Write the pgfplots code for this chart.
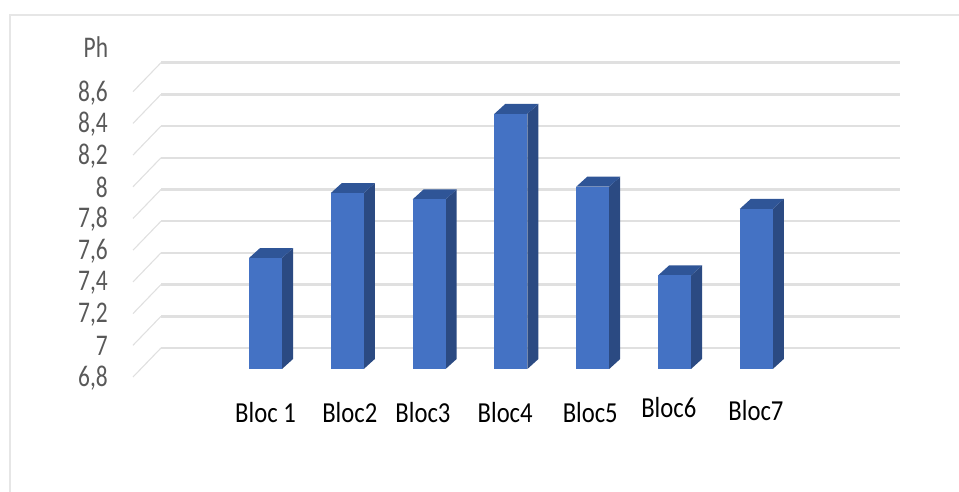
\documentclass[border=0pt]{standalone}
\usepackage{pgfplots}
\pgfplotsset{compat=1.18}
\usepackage{fontspec}
\setmainfont{Carlito}
\newfontfamily\tickfont[FakeStretch=0.78]{Carlito}
\newfontfamily\blocfont[FakeStretch=0.85]{Carlito}
\definecolor{wallgrid}{HTML}{E0E0E0}
\definecolor{framegrey}{HTML}{E6E6E6}
\definecolor{barfront}{HTML}{4472C4}
\definecolor{barside}{HTML}{2B4A82}
\definecolor{bartop}{HTML}{2F5597}
\definecolor{ticktext}{HTML}{595959}
\begin{document}
\begin{tikzpicture}[x=1pt,y=1pt]
\useasboundingbox (0,0) rectangle (959,492);
% outer frame of the chart area
\draw[framegrey,line width=2.5pt] (10,0) -- (10,477) -- (959,477);
% back wall: value axis, gridlines and the receding floor lines
\begin{axis}[
  at={(0,0)},anchor=south west,scale only axis,width=959pt,height=492pt,
  xmin=0,xmax=959,ymin=6.0744,ymax=9.1785,
  axis line style={draw=none},tick style={draw=none},
  xtick=\empty,
  ytick={6.8,7,7.2,7.4,7.6,7.8,8,8.2,8.4,8.6},
  /pgf/number format/assume math mode=true,
  /pgf/number format/use comma,
  /pgf/number format/fixed,
  /pgf/number format/precision=1,
  yticklabel style={anchor=east,xshift=108pt,yshift=-1pt,inner sep=0pt,
    font=\fontsize{30}{30}\selectfont\tickfont,text=ticktext},
  ylabel={Ph},
  ylabel style={at={(axis description cs:0.1,0.9045)},anchor=center,rotate=-90,
    inner sep=0pt,font=\fontsize{30}{30}\selectfont\tickfont,text=ticktext},
  clip=false,
]
\pgfplotsforeachungrouped \v in {6.8,7,7.2,7.4,7.6,7.8,8,8.2,8.4,8.6}{
  \pgfmathsetmacro\w{\v+0.183}
  \edef\wallline{
    \noexpand\addplot[wallgrid,line width=1.1pt,forget plot] coordinates {(133,\v)(161,\w)};
    \noexpand\addplot[wallgrid,line width=2.5pt,forget plot] coordinates {(161,\w)(900,\w)};
  }
  \wallline
}
\end{axis}
% bars: front faces plus the side and top faces of each block
\begin{axis}[
  at={(0,123pt)},anchor=south west,scale only axis,width=959pt,height=369pt,
  xmin=-2.246,xmax=9.478,ymin=6.8,ymax=9.128,
  axis line style={draw=none},tick style={draw=none},
  ytick=\empty,
  xtick={1,2.03,2.925,3.93,4.97,5.93,6.996},
  xticklabels={Bloc 1,Bloc2,Bloc3,Bloc4,Bloc5,\raisebox{5pt}{Bloc6},\raisebox{2pt}{Bloc7}},
  xticklabel style={anchor=base,yshift=-54pt,inner sep=0pt,
    font=\fontsize{29}{29}\selectfont\blocfont,text=black},
  clip=false,
]
\pgfplotsforeachungrouped \c/\v in {1/7.50,2/7.91,3/7.87,4/8.41,5/7.95,6/7.39,7/7.81}{
  \pgfmathsetmacro\xl{\c-0.2017}
  \pgfmathsetmacro\xr{\c+0.2017}
  \pgfmathsetmacro\xlb{\xl+0.1345}
  \pgfmathsetmacro\xrb{\xr+0.1345}
  \pgfmathsetmacro\vb{\v+0.063}
  \edef\block{
    \noexpand\addplot[draw=none,fill=barside,forget plot] coordinates
      {(\xr,6.8)(\xrb,6.863)(\xrb,\vb)(\xr,\v)} -- cycle;
    \noexpand\addplot[draw=none,fill=bartop,forget plot] coordinates
      {(\xl,\v)(\xlb,\vb)(\xrb,\vb)(\xr,\v)} -- cycle;
    \noexpand\addplot[ybar,bar width=33pt,bar shift=0pt,draw=none,fill=barfront,forget plot]
      coordinates {(\c,\v)};
  }
  \block
}
\end{axis}
\end{tikzpicture}
\end{document}
